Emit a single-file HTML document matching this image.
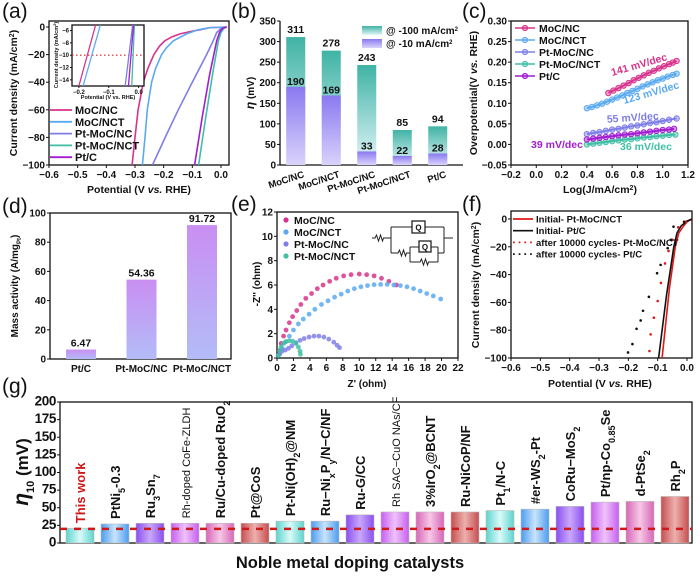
<!DOCTYPE html>
<html><head><meta charset="utf-8">
<style>
html,body{margin:0;padding:0;background:#fff;}
svg{display:block;font-family:"Liberation Sans",Arial,sans-serif;}
</style></head>
<body>
<svg id="fig" width="700" height="577" viewBox="0 0 700 577" xmlns="http://www.w3.org/2000/svg">
<defs>
<linearGradient id="gTeal" x1="0" y1="0" x2="0" y2="1"><stop offset="0" stop-color="#3fb3a4"/><stop offset="1" stop-color="#e4f6fb"/></linearGradient>
<linearGradient id="gLav" x1="0" y1="0" x2="0" y2="1"><stop offset="0" stop-color="#8a78f0"/><stop offset="1" stop-color="#d9d3fb"/></linearGradient>
<linearGradient id="gD" x1="0" y1="0" x2="0" y2="1"><stop offset="0" stop-color="#c98ef2"/><stop offset="1" stop-color="#b3bcf8"/></linearGradient>
<linearGradient id="c0" x1="0" y1="0" x2="1" y2="0"><stop offset="0" stop-color="#5fd3cc"/><stop offset="0.5" stop-color="#d8fbfa"/><stop offset="1" stop-color="#5fd3cc"/></linearGradient>
<linearGradient id="c1" x1="0" y1="0" x2="1" y2="0"><stop offset="0" stop-color="#4a9cf0"/><stop offset="0.5" stop-color="#c8e4fb"/><stop offset="1" stop-color="#4a9cf0"/></linearGradient>
<linearGradient id="c2" x1="0" y1="0" x2="1" y2="0"><stop offset="0" stop-color="#8a4ef0"/><stop offset="0.5" stop-color="#c9a8fb"/><stop offset="1" stop-color="#8a4ef0"/></linearGradient>
<linearGradient id="c3" x1="0" y1="0" x2="1" y2="0"><stop offset="0" stop-color="#c65ef0"/><stop offset="0.5" stop-color="#f0c2fb"/><stop offset="1" stop-color="#c65ef0"/></linearGradient>
<linearGradient id="c4" x1="0" y1="0" x2="1" y2="0"><stop offset="0" stop-color="#d865b8"/><stop offset="0.5" stop-color="#f6c8e6"/><stop offset="1" stop-color="#d865b8"/></linearGradient>
<linearGradient id="c5" x1="0" y1="0" x2="1" y2="0"><stop offset="0" stop-color="#c44e50"/><stop offset="0.5" stop-color="#eeb0ae"/><stop offset="1" stop-color="#c44e50"/></linearGradient>
</defs>
</svg>
<script>
// ---------- DATA ----------
const aSeriesNames = ["MoC/NC","MoC/NCT","Pt-MoC/NC","Pt-MoC/NCT","Pt/C"];
const aMoCNC = [[0.02,0],[-0.04,-0.5],[-0.073,-2],[-0.10,-3],[-0.143,-5],[-0.17,-7],[-0.196,-10],[-0.215,-14],[-0.234,-20],[-0.255,-30],[-0.271,-40],[-0.289,-60],[-0.30,-80],[-0.31,-100]];
const aMoCNCT = [[0.02,0],[-0.04,-0.5],[-0.08,-2],[-0.12,-5],[-0.166,-10],[-0.19,-15],[-0.207,-20],[-0.228,-30],[-0.242,-40],[-0.257,-60],[-0.265,-80],[-0.274,-100]];
const aPtMoCNC = [[0.02,0],[0.0,-1],[-0.015,-4],[-0.027,-10],[-0.05,-20],[-0.10,-40],[-0.149,-60],[-0.19,-78],[-0.239,-100]];
const aPtMoCNCT = [[0.02,0],[0.01,-1],[0.0,-4],[-0.009,-10],[-0.03,-35],[-0.055,-68],[-0.078,-100]];
const aPtC = [[0.02,0],[0.005,-1],[-0.005,-4],[-0.015,-10],[-0.04,-35],[-0.065,-65],[-0.092,-100]];
const aInsetTop = [-0.144,-0.128,-0.020,-0.014,-0.017];
const aInsetBottom = [-0.200,-0.186,-0.045,-0.023,-0.034];
const aXTicks = [-0.6,-0.5,-0.4,-0.3,-0.2,-0.1,0.0];
const aYTicks = [0,-20,-40,-60,-80,-100];
const bCats = ["MoC/NC","MoC/NCT","Pt-MoC/NC","Pt-MoC/NCT","Pt/C"];
const b100 = [311,278,243,85,94];
const b10 = [190,169,33,22,28];
const bYTicks = [0,50,100,150,200,250,300,350];
const cMoCNC = [[0.57,0.125],[0.61,0.131],[0.65,0.137],[0.69,0.143],[0.73,0.149],[0.77,0.156],[0.81,0.162],[0.85,0.168],[0.89,0.174],[0.93,0.179],[0.97,0.185],[1.01,0.190],[1.05,0.195],[1.08,0.199],[1.11,0.203]];
const cMoCNCT = [[0.40,0.088],[0.44,0.091],[0.48,0.095],[0.52,0.099],[0.56,0.104],[0.60,0.109],[0.64,0.114],[0.68,0.119],[0.72,0.125],[0.76,0.130],[0.80,0.135],[0.84,0.141],[0.88,0.146],[0.92,0.151],[0.96,0.156],[1.00,0.160],[1.04,0.165],[1.08,0.169],[1.11,0.172]];
const cPtMoCNC = [[0.40,0.025],[0.45,0.028],[0.50,0.030],[0.55,0.033],[0.60,0.036],[0.65,0.038],[0.70,0.041],[0.75,0.044],[0.80,0.046],[0.85,0.049],[0.90,0.052],[0.95,0.054],[1.00,0.057],[1.05,0.060],[1.11,0.063]];
const cPtMoCNCT = [[0.40,0.000],[0.45,0.002],[0.50,0.004],[0.55,0.006],[0.60,0.008],[0.65,0.010],[0.70,0.012],[0.75,0.013],[0.80,0.015],[0.85,0.017],[0.90,0.018],[0.95,0.020],[1.00,0.021],[1.05,0.023],[1.10,0.024]];
const cPtC = [[0.40,0.012],[0.45,0.014],[0.50,0.016],[0.55,0.018],[0.60,0.020],[0.65,0.022],[0.70,0.024],[0.75,0.025],[0.80,0.027],[0.85,0.029],[0.90,0.031],[0.95,0.033],[1.00,0.035],[1.05,0.036],[1.09,0.038]];
const cXTicks = [-0.2,0.0,0.2,0.4,0.6,0.8,1.0,1.2];
const cYTicks = [-0.05,0.00,0.05,0.10,0.15,0.20,0.25,0.30];
const dCats = ["Pt/C","Pt-MoC/NC","Pt-MoC/NCT"];
const dVals = [6.47,54.36,91.72];
const dYTicks = [0,20,40,60,80,100];
const eMoCNC = [[0.3,0.6],[0.5,1.2],[0.8,1.8],[1.1,2.3],[1.5,2.9],[1.9,3.4],[2.4,3.9],[2.9,4.4],[3.5,4.9],[4.2,5.3],[4.9,5.7],[5.6,6.0],[6.4,6.3],[7.2,6.55],[8.1,6.75],[9.0,6.85],[10.0,6.9],[10.9,6.85],[11.8,6.75],[12.7,6.55],[13.6,6.3],[14.5,6.0]];
const eMoCNCT = [[0.3,0.3],[0.6,0.8],[1.0,1.3],[1.5,1.8],[2.0,2.3],[2.6,2.8],[3.2,3.2],[3.9,3.6],[4.6,4.0],[5.4,4.4],[6.2,4.7],[7.0,5.0],[7.8,5.25],[8.6,5.5],[9.4,5.7],[10.2,5.85],[11.0,5.95],[11.8,6.03],[12.6,6.05],[13.4,6.05],[14.2,6.0],[15.0,5.95],[15.8,5.85],[16.6,5.7],[17.4,5.5],[18.2,5.3],[19.0,5.1],[19.9,4.85]];
const ePtMoCNC = [[0.3,0.3],[0.6,0.55],[1.0,0.65],[1.4,0.8],[1.8,1.0],[2.3,1.25],[2.8,1.45],[3.3,1.6],[3.9,1.72],[4.5,1.8],[5.1,1.8],[5.7,1.72],[6.3,1.55],[6.9,1.3],[7.3,1.05],[7.6,0.85]];
const ePtMoCNCT = [[0.15,0.2],[0.3,0.6],[0.5,0.9],[0.8,1.2],[1.1,1.35],[1.5,1.42],[1.9,1.38],[2.3,1.2],[2.6,0.9],[2.8,0.55],[2.85,0.3]];
const eXTicks = [0,2,4,6,8,10,12,14,16,18,20,22];
const eYTicks = [0,2,4,6,8,10,12];
const fInitPtMoC = [[0.017,0],[0.0,-2],[-0.015,-6],[-0.028,-10],[-0.04,-20],[-0.06,-50],[-0.085,-100]];
const fInitPtC = [[0.017,0],[0.0,-1.5],[-0.02,-5],[-0.034,-10],[-0.045,-20],[-0.07,-55],[-0.097,-100]];
const fAfterPtMoC = [[-0.005,-2],[-0.03,-6],[-0.05,-15],[-0.063,-23],[-0.075,-32],[-0.089,-46],[-0.100,-59],[-0.113,-71],[-0.124,-83],[-0.128,-95]];
const fAfterPtC = [[-0.01,-2],[-0.046,-5.5],[-0.055,-15],[-0.066,-21],[-0.09,-33],[-0.102,-39],[-0.13,-56],[-0.15,-66],[-0.158,-73],[-0.172,-79],[-0.186,-90],[-0.201,-96]];
const fXTicks = [-0.6,-0.5,-0.4,-0.3,-0.2,-0.1,0.0];
const fYTicks = [0,-20,-40,-60,-80,-100];
const gCats = ['This work','PtNi<tspan baseline-shift="sub" font-size="9">5</tspan>-0.3','Ru<tspan baseline-shift="sub" font-size="9">3</tspan>Sn<tspan baseline-shift="sub" font-size="9">7</tspan>','Rh-doped CoFe-ZLDH','Ru/Cu-doped RuO<tspan baseline-shift="sub" font-size="9">2</tspan>','Pt@CoS','Pt-Ni(OH)<tspan baseline-shift="sub" font-size="9">2</tspan>@NM','Ru−Ni<tspan baseline-shift="sub" font-size="9">x</tspan>P<tspan baseline-shift="sub" font-size="9">y</tspan>/N−C/NF','Ru-G/CC','Rh SAC−CuO NAs/CF','3%IrO<tspan baseline-shift="sub" font-size="9">2</tspan>@BCNT','Ru-NiCoP/NF','Pt<tspan baseline-shift="sub" font-size="9">1</tspan>/N-C','#er-WS<tspan baseline-shift="sub" font-size="9">2</tspan>-Pt','CoRu−MoS<tspan baseline-shift="sub" font-size="9">2</tspan>','Pt/np-Co<tspan baseline-shift="sub" font-size="9">0.85</tspan>Se','d-PtSe<tspan baseline-shift="sub" font-size="9">2</tspan>','Rh<tspan baseline-shift="sub" font-size="9">2</tspan>P'];
const gVals = [21,27,28,28,28,28,31,31,40,44,44,44,46,48,52,58,59,66];
const gRef = [20];
const gYTicks = [0,25,50,75,100,125,150,175,200];

// ---------- HELPERS ----------
const NS = "http://www.w3.org/2000/svg";
const svg = document.getElementById('fig');
function add(parent, tag, attrs, name, inter) {
  const e = document.createElementNS(NS, tag);
  for (const k in attrs) e.setAttribute(k, attrs[k]);
  
  
  parent.appendChild(e);
  return e;
}
function txt(parent, x, y, s, opts, name) {
  const t = add(parent, 'text', Object.assign({x:x, y:y, 'font-size':10, 'font-weight':'bold', fill:'#111', 'text-anchor':'middle'}, opts || {}), name, false);
  t.innerHTML = s;
  return t;
}
function lin(d0, d1, r0, r1) { return v => r0 + (v - d0) / (d1 - d0) * (r1 - r0); }
function fmt(v, dec) { const s = v.toFixed(dec); return s.startsWith('-') ? '−' + s.slice(1) : s; }
function axes(g, o) {
  if (o.box) add(g, 'rect', {x:o.L, y:o.T, width:o.R-o.L, height:o.B-o.T, fill:'none', stroke:'#111', 'stroke-width':1.3}, 'plot-frame', false);
  else {
    add(g, 'line', {x1:o.L, y1:o.T, x2:o.L, y2:o.B, stroke:'#111', 'stroke-width':1.3}, 'y-axis-line', false);
    add(g, 'line', {x1:o.L, y1:o.B, x2:o.R, y2:o.B, stroke:'#111', 'stroke-width':1.3}, 'x-axis-line', false);
  }
  if (o.xt) o.xt.forEach(v => {
    const x = o.sx(v);
    add(g, 'line', {x1:x, y1:o.B, x2:x, y2:o.B+3, stroke:'#111', 'stroke-width':1}, 'x-tick', false);
    txt(g, x, o.B+13, fmt(v, o.xd), {'font-size': o.fs || 10}, 'x-tick-label');
  });
  if (o.yt) o.yt.forEach(v => {
    const y = o.sy(v);
    add(g, 'line', {x1:o.L-3, y1:y, x2:o.L, y2:y, stroke:'#111', 'stroke-width':1}, 'y-tick', false);
    txt(g, o.L-4, y+3.5, fmt(v, o.yd), {'font-size': o.fs || 10, 'text-anchor':'end'}, 'y-tick-label');
  });
}
function ytitle(g, x, y, s, name, fs) {
  return txt(g, 0, 0, s, {'font-size': fs || 10, transform:`translate(${x},${y}) rotate(-90)`}, name);
}
function poly(g, pts, sx, sy, attrs, name) {
  return add(g, 'polyline', Object.assign({points: pts.map(p => sx(p[0]).toFixed(1)+','+sy(p[1]).toFixed(1)).join(' '), fill:'none'}, attrs), name, false);
}
const COL = {"MoC/NC":"#d8338c","MoC/NCT":"#5aaaf0","Pt-MoC/NC":"#7f7ee8","Pt-MoC/NCT":"#3fbfa6","Pt/C":"#a21cd2"};

[['(a)',2,18],['(b)',231,18],['(c)',462,18],['(d)',2,213],['(e)',231,211],['(f)',462,211],['(g)',2,393]].forEach(p => {
  txt(svg, p[1], p[2], p[0], {'font-size':21, 'font-weight':'normal', 'text-anchor':'start'}, 'panel-label');
});

// ---------- (a) ----------
(function(){
  const g = add(svg, 'g', {}, 'panel-a-lsv', false);
  const o = {L:49, R:229, T:21, B:165, box:true, xd:1, yd:0};
  o.sx = lin(-0.6, 0.028, o.L, o.R); o.sy = lin(-100, 4.35, o.B, o.T);
  o.xt = aXTicks; o.yt = aYTicks;
  axes(g, o);
  txt(g, 139, 193, 'Potential (V <tspan font-style="italic">vs.</tspan> RHE)', {'font-size':10.5}, 'x-axis-title');
  ytitle(g, 17, 93, 'Current density (mA/cm<tspan baseline-shift="super" font-size="7">2</tspan>)', 'y-axis-title', 10.5);
  const series = [aMoCNC, aMoCNCT, aPtMoCNC, aPtMoCNCT, aPtC];
  const cp = add(g, 'clipPath', {id:'clipA'}, 'clip-a', false);
  add(cp, 'rect', {x:o.L, y:o.T, width:o.R-o.L, height:o.B-o.T}, 'clip-rect', false);
  series.forEach((s, i) => {
    const p = poly(g, s, o.sx, o.sy, {stroke:COL[aSeriesNames[i]], 'stroke-width':1.6, 'clip-path':'url(#clipA)'}, 'lsv-line');
    
  });
  aSeriesNames.forEach((n, i) => {
    const y = 110 + i * 11.8;
    add(g, 'line', {x1:50, y1:y, x2:72, y2:y, stroke:COL[n], 'stroke-width':1.8}, 'legend-swatch', false);
    txt(g, 75, y+4, n, {'font-size':11, 'text-anchor':'start'}, 'legend-entry');
  });
  const ig = add(g, 'g', {}, 'inset-plot', false);
  const io = {L:72, R:144, T:25, B:86, box:true, xd:1, yd:0};
  io.sx = lin(-0.223, 0.018, io.L, io.R); io.sy = lin(-15, -5.1, io.B, io.T);
  add(ig, 'rect', {x:io.L, y:io.T, width:io.R-io.L, height:io.B-io.T, fill:'#fff'}, 'inset-bg', false);
  io.xt = null; io.yt = null;
  axes(ig, io);
  [-0.2,-0.1,0.0].forEach(v => {
    add(ig, 'line', {x1:io.sx(v), y1:io.B, x2:io.sx(v), y2:io.B+2, stroke:'#111'}, 'inset-x-tick', false);
    txt(ig, io.sx(v), io.B+8, fmt(v,1), {'font-size':6}, 'inset-x-tick-label');
  });
  [-6,-8,-10,-12,-14].forEach(v => {
    add(ig, 'line', {x1:io.L-2, y1:io.sy(v), x2:io.L, y2:io.sy(v), stroke:'#111'}, 'inset-y-tick', false);
    txt(ig, io.L-3, io.sy(v)+2, fmt(v,0), {'font-size':6, 'text-anchor':'end'}, 'inset-y-tick-label');
  });
  txt(ig, 108, 99, 'Potential (V vs. RHE)', {'font-size':5.5}, 'inset-x-title');
  ytitle(ig, 58, 55, 'Current density (mA/cm<tspan baseline-shift="super" font-size="4">2</tspan>)', 'inset-y-title', 5.5);
  add(ig, 'line', {x1:io.L, y1:io.sy(-10), x2:io.R, y2:io.sy(-10), stroke:'#e02020', 'stroke-width':1.2, 'stroke-dasharray':'1.5,2.5'}, 'inset-ref-line', false);
  aSeriesNames.forEach((n, i) => {
    add(ig, 'line', {x1:io.sx(aInsetTop[i]), y1:io.sy(-5.1), x2:io.sx(aInsetBottom[i]), y2:io.sy(-15), stroke:COL[n], 'stroke-width':1.3}, 'inset-line', false);
  });
})();

// ---------- (b) ----------
(function(){
  const g = add(svg, 'g', {}, 'panel-b-overpotential-bars', false);
  const o = {L:280, R:463, T:21, B:165, box:false, yd:0};
  o.sy = lin(0, 350, o.B, o.T); o.yt = bYTicks;
  axes(g, o);
  ytitle(g, 254, 93, '<tspan font-style="italic" font-size="12">η</tspan> (mV)', 'y-axis-title', 10);
  const step = 35.5, left = 278, bw = 19;
  bCats.forEach((c, i) => {
    const cx = left + step * (i + 0.5);
    add(g, 'rect', {x:cx-bw/2, y:o.sy(b100[i]), width:bw, height:o.B-o.sy(b100[i]), fill:'url(#gTeal)'}, 'bar-100', false);
    add(g, 'rect', {x:cx-bw/2, y:o.sy(b10[i]), width:bw, height:o.B-o.sy(b10[i]), fill:'url(#gLav)'}, 'bar-10', false);
    txt(g, cx, o.sy(b100[i]) - 4, String(b100[i]), {'font-size':10.5}, 'value-label-100');
    txt(g, cx, o.sy(b10[i]) - 2, String(b10[i]), {'font-size':10.5}, 'value-label-10');
    txt(g, 0, 0, c, {'font-size':9.5, 'text-anchor':'end', transform:`translate(${cx+9},${o.B+12}) rotate(-18)`}, 'category-label');
  });
  add(g, 'rect', {x:362, y:26, width:20, height:9, fill:'url(#gTeal)'}, 'legend-swatch-100', false);
  txt(g, 386, 34, '@ -100 mA/cm<tspan baseline-shift="super" font-size="6">2</tspan>', {'font-size':10, 'text-anchor':'start'}, 'legend-entry-100');
  add(g, 'rect', {x:362, y:39, width:20, height:9, fill:'url(#gLav)'}, 'legend-swatch-10', false);
  txt(g, 386, 47, '@ -10 mA/cm<tspan baseline-shift="super" font-size="6">2</tspan>', {'font-size':10, 'text-anchor':'start'}, 'legend-entry-10');
})();

// ---------- (c) ----------
(function(){
  const g = add(svg, 'g', {}, 'panel-c-tafel', false);
  const o = {L:511, R:688, T:21, B:165, box:true, xd:1, yd:2};
  o.sx = lin(-0.2, 1.2, o.L, o.R); o.sy = lin(-0.05, 0.30, o.B, o.T);
  o.xt = cXTicks; o.yt = cYTicks;
  axes(g, o);
  txt(g, 600, 193, 'Log(J/mA/cm<tspan baseline-shift="super" font-size="7">2</tspan>)', {'font-size':10.5}, 'x-axis-title');
  ytitle(g, 477, 93, 'Overpotential(V <tspan font-style="italic">vs.</tspan> RHE)', 'y-axis-title', 10.5);
  const names = ["MoC/NC","MoC/NCT","Pt-MoC/NC","Pt-MoC/NCT","Pt/C"];
  const series = [cMoCNC, cMoCNCT, cPtMoCNC, cPtMoCNCT, cPtC];
  series.forEach((s, i) => {
    const c = COL[names[i]];
    poly(g, s, o.sx, o.sy, {stroke:c, 'stroke-width':2}, 'tafel-line');
    s.forEach(p => {
      add(g, 'circle', {cx:o.sx(p[0]), cy:o.sy(p[1]), r:2.7, fill:c, 'fill-opacity':0.45, stroke:c, 'stroke-width':1}, 'tafel-point', false);
    });
  });
  names.forEach((n, i) => {
    const y = 28 + i * 12;
    add(g, 'line', {x1:515, y1:y, x2:535, y2:y, stroke:COL[n], 'stroke-width':1.6}, 'legend-swatch', false);
    add(g, 'circle', {cx:525, cy:y, r:2.6, fill:COL[n], 'fill-opacity':0.45, stroke:COL[n], 'stroke-width':1}, 'legend-marker', false);
    txt(g, 539, y+4, n, {'font-size':10.5, 'text-anchor':'start'}, 'legend-entry');
  });
  const labs = [['141 mV/dec',640,68,COL["MoC/NC"]],['123 mV/dec',652,96,COL["MoC/NCT"]],['55 mV/dec',633,121,COL["Pt-MoC/NC"]],['39 mV/dec',557,148,COL["Pt/C"]],['36 mV/dec',646,150,COL["Pt-MoC/NCT"]]];
  labs.forEach((l, i) => {
    const rot = i < 2 ? -16 : (i === 2 ? -4 : 0);
    txt(g, 0, 0, l[0], {'font-size':10.5, fill:l[3], transform:`translate(${l[1]},${l[2]}) rotate(${rot})`}, 'slope-label');
  });
})();

// ---------- (d) ----------
(function(){
  const g = add(svg, 'g', {}, 'panel-d-mass-activity', false);
  const o = {L:50, R:231, T:213, B:359, box:true, yd:0};
  o.sy = lin(0, 100, o.B, o.T); o.yt = dYTicks;
  axes(g, o);
  ytitle(g, 18, 286, 'Mass activity (A/mg<tspan baseline-shift="sub" font-size="6">Pt</tspan>)', 'y-axis-title', 10);
  const step = 60.5, left = 50.75, bw = 30;
  dCats.forEach((c, i) => {
    const cx = left + step * (i + 0.5);
    add(g, 'rect', {x:cx-bw/2, y:o.sy(dVals[i]), width:bw, height:o.B-o.sy(dVals[i]), fill:'url(#gD)'}, 'bar-mass-activity', false);
    txt(g, cx, o.sy(dVals[i]) - 3, dVals[i].toFixed(2), {'font-size':10.5}, 'value-label');
    txt(g, cx, o.B+13, c, {'font-size':10}, 'category-label');
  });
})();

// ---------- (e) ----------
(function(){
  const g = add(svg, 'g', {}, 'panel-e-nyquist', false);
  const o = {L:277, R:458, T:212, B:358, box:true, xd:0, yd:0};
  o.sx = lin(0, 22, o.L, o.R); o.sy = lin(0, 12, o.B, o.T);
  o.xt = eXTicks; o.yt = eYTicks;
  axes(g, o);
  txt(g, 367, 387, "Z' (ohm)", {'font-size':10}, 'x-axis-title');
  ytitle(g, 260, 284, '-Z\'\' (ohm)', 'y-axis-title', 10);
  const names = ["MoC/NC","MoC/NCT","Pt-MoC/NC","Pt-MoC/NCT"];
  const series = [eMoCNC, eMoCNCT, ePtMoCNC, ePtMoCNCT];
  series.forEach((s, i) => {
    s.forEach(p => {
      add(g, 'circle', {cx:o.sx(p[0]), cy:o.sy(p[1]), r:2.4, fill:COL[names[i]], 'fill-opacity':0.85}, 'eis-point', false);
    });
  });
  names.forEach((n, i) => {
    const y = 220 + i * 12;
    add(g, 'circle', {cx:286, cy:y, r:2.6, fill:COL[n]}, 'legend-marker', false);
    txt(g, 294, y+4, n, {'font-size':10.5, 'text-anchor':'start'}, 'legend-entry');
  });
  const cg = add(g, 'g', {fill:'none', stroke:'#222', 'stroke-width':1}, 'equivalent-circuit', false);
  const paths = ['M372,238 H375 l1.5,-3 l2,6 l2,-6 l2,6 l1,-3 H391',
    'M391,227 V253','M391,227 H412','M425,227 H444','M444,227 V253',
    'M391,253 H398 l1.5,-3 l2,6 l2,-6 l2,6 l1,-3 H410','M410,247 V262','M410,247 H419','M431,247 H438',
    'M410,262 H420 l1.5,-3 l2,6 l2,-6 l2,6 l1,-3 H438','M438,247 V262','M438,253 H444','M444,238 H453'];
  paths.forEach(d => add(cg, 'path', {d:d}, 'circuit-wire', false));
  add(cg, 'rect', {x:412, y:221, width:13, height:12, 'stroke-width':1.3}, 'circuit-cpe-1', false);
  add(cg, 'rect', {x:419, y:241, width:12, height:11, 'stroke-width':1.3}, 'circuit-cpe-2', false);
  txt(g, 418.5, 230.5, 'Q', {'font-size':8}, 'cpe-label');
  txt(g, 425, 250, 'Q', {'font-size':8}, 'cpe-label');
})();

// ---------- (f) ----------
(function(){
  const g = add(svg, 'g', {}, 'panel-f-stability', false);
  const o = {L:511, R:692, T:211, B:358, box:true, xd:1, yd:0};
  o.sx = lin(-0.6, 0.017, o.L, o.R); o.sy = lin(-100, 5.75, o.B, o.T);
  o.xt = fXTicks; o.yt = fYTicks;
  axes(g, o);
  txt(g, 600, 387, 'Potential (V <tspan font-style="italic">vs.</tspan> RHE)', {'font-size':10.5}, 'x-axis-title');
  ytitle(g, 479, 285, 'Current density (mA/cm<tspan baseline-shift="super" font-size="7">2</tspan>)', 'y-axis-title', 10.5);
  poly(g, fInitPtMoC, o.sx, o.sy, {stroke:'#e01818', 'stroke-width':1.6}, 'initial-pt-moc-nct-line');
  poly(g, fInitPtC, o.sx, o.sy, {stroke:'#111', 'stroke-width':1.6}, 'initial-pt-c-line');
  fAfterPtMoC.forEach(p => add(g, 'circle', {cx:o.sx(p[0]), cy:o.sy(p[1]), r:1.3, fill:'#e01818'}, 'after-pt-moc-nct-point', false));
  fAfterPtC.forEach(p => add(g, 'circle', {cx:o.sx(p[0]), cy:o.sy(p[1]), r:1.3, fill:'#111'}, 'after-pt-c-point', false));
  const leg = [['Initial- Pt-MoC/NCT','#e01818',false],['Initial- Pt/C','#111',false],['after 10000 cycles- Pt-MoC/NCT','#e01818',true],['after 10000 cycles- Pt/C','#111',true]];
  leg.forEach((l, i) => {
    const y = 219 + i * 11.7;
    add(g, 'line', {x1:513, y1:y, x2:533, y2:y, stroke:l[1], 'stroke-width':1.7, 'stroke-dasharray': l[2] ? '1.7,4' : 'none'}, 'legend-swatch', false);
    txt(g, 536, y+3.5, l[0], {'font-size':9.5, 'text-anchor':'start'}, 'legend-entry');
  });
})();

// ---------- (g) ----------
(function(){
  const g = add(svg, 'g', {}, 'panel-g-comparison', false);
  const o = {L:60, R:692, T:402, B:543, box:true, yd:0, fs:13};
  o.sy = lin(0, 200, o.B, o.T); o.yt = gYTicks;
  axes(g, o);
  g.querySelectorAll('text').forEach(t => { t.setAttribute('font-size', 13.5); t.setAttribute('letter-spacing', '-0.4'); });
  ytitle(g, 28, 472, '<tspan font-style="italic" font-size="21">η</tspan><tspan baseline-shift="sub" font-size="11">10</tspan> (mV)', 'y-axis-title', 17);
  txt(g, 350, 568, 'Noble metal doping catalysts', {'font-size':16.5}, 'x-axis-title');
  const step = 35, left = 62.5, bw = 28;
  gCats.forEach((c, i) => {
    const cx = left + step * (i + 0.5);
    const y = o.sy(gVals[i]);
    add(g, 'rect', {x:cx-bw/2, y:y, width:bw, height:o.B-y, fill:`url(#c${i%6})`, stroke:'#bbb', 'stroke-width':0.6}, 'bar-catalyst', false);
    const small = (i === 3 || i === 9);
    txt(g, 0, 0, c, {'font-size': small ? 11 : 13, 'font-weight': small ? 'normal' : 'bold', 'text-anchor':'start', fill: i === 0 ? '#d01818' : '#111', transform:`translate(${cx+5},${y-5}) rotate(-90)`}, 'catalyst-label');
  });
  add(g, 'line', {x1:o.L, y1:o.sy(gRef[0]), x2:o.R, y2:o.sy(gRef[0]), stroke:'#d01818', 'stroke-width':2.5, 'stroke-dasharray':'7,7'}, 'this-work-reference-line', false);
})();
</script>
</body></html>
